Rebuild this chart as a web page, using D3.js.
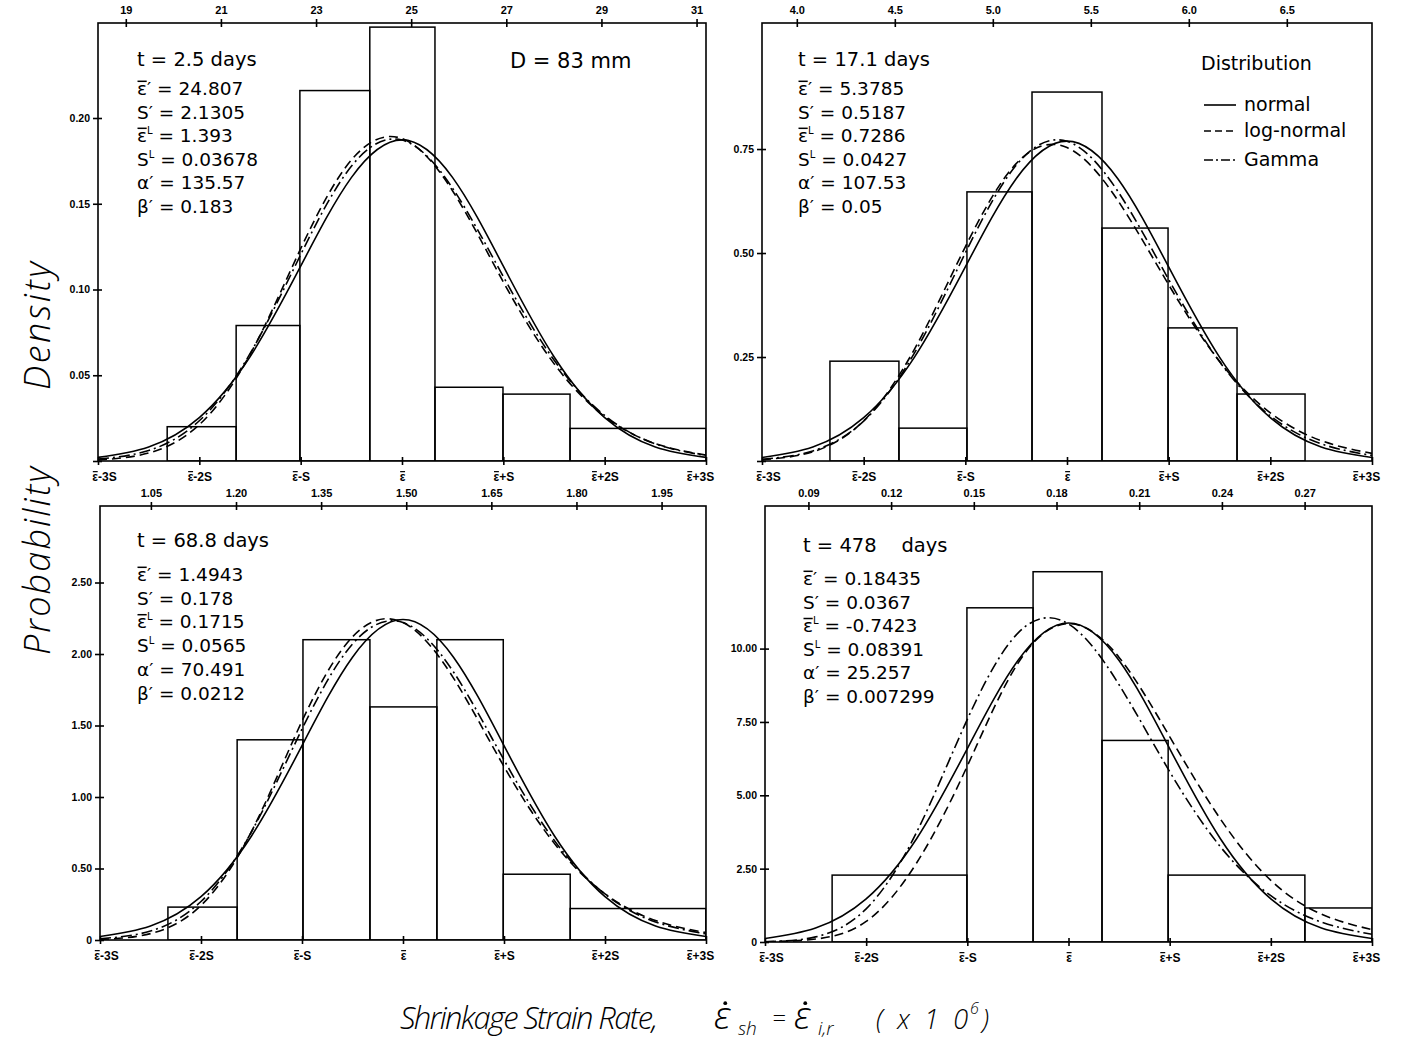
<!DOCTYPE html>
<html><head><meta charset="utf-8">
<script src="https://cdn.jsdelivr.net/npm/d3@7"></script>
<style>body{margin:0;background:#fff} svg{display:block}</style>
</head><body>
<svg id="c" width="1404" height="1042"></svg>
<script>
// ---------------- data ----------------
const zSteps = [-3, -2.5, -2, -1.5, -1, -0.5, 0, 0.5, 1, 1.5, 2, 2.5, 3];
const bottomK = [-3, -2, -1, 0, 1, 2, 3];
const bottomLabels = ["ε-3S", "ε-2S", "ε-S", "ε", "ε+S", "ε+2S", "ε+3S"]; // ε drawn with a bar over it
const distNames = ["normal", "log-normal", "Gamma"];

// Panel 1: t = 2.5 days
const p1Time = "t = 2.5 days";
const p1Stats = ["24.807", "2.1305", "1.393", "0.03678", "135.57", "0.183"];
const p1Mean = 24.807, p1Sd = 2.1305;
const p1TopTicks = [19, 21, 23, 25, 27, 29, 31];
const p1TopLabels = ["19", "21", "23", "25", "27", "29", "31"];
const p1YTicks = [0, 0.05, 0.10, 0.15, 0.20];
const p1YLabels = ["", "0.05", "0.10", "0.15", "0.20"];
const p1Edges = [19.87, 21.32, 22.66, 24.13, 25.50, 26.93, 28.34, 31.20];
const p1Heights = [0.020, 0.079, 0.216, 0.253, 0.043, 0.039, 0.019];
const p1Normal = [0.00208, 0.00823, 0.02534, 0.06079, 0.11357, 0.16525, 0.18725, 0.16525, 0.11357, 0.06079, 0.02534, 0.00823, 0.00208];
const p1LogNormal = [0.00061, 0.00465, 0.02118, 0.06201, 0.12379, 0.17550, 0.18800, 0.15743, 0.10440, 0.05679, 0.02593, 0.01013, 0.00344];
const p1Gamma = [0.00107, 0.00612, 0.02345, 0.06256, 0.12030, 0.17183, 0.18713, 0.15899, 0.10750, 0.05888, 0.02654, 0.00998, 0.00317];

// Panel 2: t = 17.1 days
const p2Time = "t = 17.1 days";
const p2Stats = ["5.3785", "0.5187", "0.7286", "0.0427", "107.53", "0.05"];
const p2Mean = 5.3785, p2Sd = 0.5187;
const p2TopTicks = [4.0, 4.5, 5.0, 5.5, 6.0, 6.5];
const p2TopLabels = ["4.0", "4.5", "5.0", "5.5", "6.0", "6.5"];
const p2YTicks = [0, 0.25, 0.50, 0.75];
const p2YLabels = ["", "0.25", "0.50", "0.75"];
const p2Edges = [4.169, 4.521, 4.868, 5.200, 5.557, 5.894, 6.246, 6.593];
const p2Heights = [0.240, 0.079, 0.647, 0.887, 0.560, 0.320, 0.161];
const p2Normal = [0.00855, 0.03379, 0.10409, 0.24970, 0.46649, 0.67874, 0.76911, 0.67874, 0.46649, 0.24970, 0.10409, 0.03379, 0.00855];
const p2LogNormal = [0.00301, 0.02218, 0.09647, 0.26905, 0.51493, 0.71488, 0.75353, 0.62632, 0.42372, 0.23965, 0.11592, 0.04889, 0.01828];
const p2Gamma = [0.00399, 0.02428, 0.09606, 0.25973, 0.50026, 0.71100, 0.76856, 0.64834, 0.43640, 0.23900, 0.10834, 0.04126, 0.01337];

// Panel 3: t = 68.8 days
const p3Time = "t = 68.8 days";
const p3Stats = ["1.4943", "0.178", "0.1715", "0.0565", "70.491", "0.0212"];
const p3Mean = 1.4943, p3Sd = 0.178;
const p3TopTicks = [1.05, 1.20, 1.35, 1.50, 1.65, 1.80, 1.95];
const p3TopLabels = ["1.05", "1.20", "1.35", "1.50", "1.65", "1.80", "1.95"];
const p3YTicks = [0, 0.5, 1.0, 1.5, 2.0, 2.5];
const p3YLabels = ["0", "0.50", "1.00", "1.50", "2.00", "2.50"];
const p3Edges = [1.080, 1.202, 1.318, 1.436, 1.554, 1.671, 1.789, 2.028];
const p3Heights = [0.23, 1.40, 2.10, 1.63, 2.10, 0.46, 0.22];
const p3Normal = [0.02490, 0.09847, 0.30332, 0.72763, 1.35940, 1.97790, 2.24120, 1.97790, 1.35940, 0.72763, 0.30332, 0.09847, 0.02490];
const p3LogNormal = [0.00414, 0.04458, 0.24172, 0.75864, 1.53080, 2.12000, 2.22000, 1.83163, 1.21274, 0.67401, 0.32298, 0.13641, 0.05172];
const p3Gamma = [0.00881, 0.06260, 0.26935, 0.75693, 1.47464, 2.07000, 2.22000, 1.87417, 1.25912, 0.69459, 0.32081, 0.12612, 0.04283];

// Panel 4: t = 478 days
const p4Time = "t = 478    days";
const p4Stats = ["0.18435", "0.0367", "-0.7423", "0.08391", "25.257", "0.007299"];
const p4Mean = 0.18435, p4Sd = 0.0367;
const p4TopTicks = [0.09, 0.12, 0.15, 0.18, 0.21, 0.24, 0.27];
const p4TopLabels = ["0.09", "0.12", "0.15", "0.18", "0.21", "0.24", "0.27"];
const p4YTicks = [0, 2.5, 5.0, 7.5, 10.0];
const p4YLabels = ["0", "2.50", "5.00", "7.50", "10.00"];
const p4Edges = [0.0986, 0.1475, 0.1715, 0.1965, 0.2205, 0.2701, 0.2945];
const p4Heights = [2.28, 11.39, 12.62, 6.87, 2.28, 1.16];
const p4Normal = [0.12076, 0.47760, 1.47115, 3.52911, 6.59322, 9.59312, 10.87036, 9.59312, 6.59322, 3.52911, 1.47115, 0.47760, 0.12076];
const p4LogNormal = [0.01, 0.10, 0.70, 2.70, 6.00, 9.50, 10.85, 9.70, 7.00, 4.20, 2.10, 0.95, 0.42];
const p4Gamma = [0.01013, 0.17400, 1.13065, 3.74867, 7.58760, 10.52756, 10.84008, 8.76693, 5.80713, 3.25274, 1.57922, 0.67781, 0.26130];

// ---------------- layout ----------------
const panels = [
  {mean: p1Mean, sd: p1Sd, topTicks: p1TopTicks, topLabels: p1TopLabels, yTicks: p1YTicks, yLabels: p1YLabels,
   edges: p1Edges, heights: p1Heights, curves: [p1Normal, p1LogNormal, p1Gamma], time: p1Time, stats: p1Stats,
   box: {l: 98, r: 706, t: 23, b: 461}, yMax: 0.2554, ann: {x: 137, ty: 66, sy: 95, step: 23.5}},
  {mean: p2Mean, sd: p2Sd, topTicks: p2TopTicks, topLabels: p2TopLabels, yTicks: p2YTicks, yLabels: p2YLabels,
   edges: p2Edges, heights: p2Heights, curves: [p2Normal, p2LogNormal, p2Gamma], time: p2Time, stats: p2Stats,
   box: {l: 762, r: 1372, t: 23, b: 461}, yMax: 1.053, ann: {x: 798, ty: 66, sy: 95, step: 23.5}},
  {mean: p3Mean, sd: p3Sd, topTicks: p3TopTicks, topLabels: p3TopLabels, yTicks: p3YTicks, yLabels: p3YLabels,
   edges: p3Edges, heights: p3Heights, curves: [p3Normal, p3LogNormal, p3Gamma], time: p3Time, stats: p3Stats,
   box: {l: 100, r: 706, t: 506, b: 940}, yMax: 3.035, ann: {x: 137, ty: 547, sy: 581, step: 23.7}},
  {mean: p4Mean, sd: p4Sd, topTicks: p4TopTicks, topLabels: p4TopLabels, yTicks: p4YTicks, yLabels: p4YLabels,
   edges: p4Edges, heights: p4Heights, curves: [p4Normal, p4LogNormal, p4Gamma], time: p4Time, stats: p4Stats,
   box: {l: 765, r: 1372, t: 506, b: 942}, yMax: 14.86, ann: {x: 803, ty: 552, sy: 585, step: 23.6}}
];

const dashes = [null, "9,5", "11,4,2,4"];
const tickFont = "'Liberation Sans', Arial, sans-serif";
const annFont = "'DejaVu Sans', sans-serif";
const titleFont = "'Open Sans', 'Liberation Sans', sans-serif";

const svg = d3.select("#c");
svg.append("rect").attr("width", 1404).attr("height", 1042).attr("fill", "#fff");

// draw a short bar over one character of a text element
function barOver(textSel, parentSel, charIndex, fs, sw) {
  const node = textSel.node();
  const s = node.getStartPositionOfChar(charIndex);
  const e = node.getEndPositionOfChar(charIndex);
  const yy = s.y - fs * 0.74;
  parentSel.append("line").attr("x1", s.x + 0.5).attr("x2", e.x - 0.3).attr("y1", yy).attr("y2", yy)
    .attr("stroke", "#000").attr("stroke-width", sw);
}

panels.forEach((p, pi) => {
  const b = p.box;
  const x = d3.scaleLinear().domain([p.mean - 3 * p.sd, p.mean + 3 * p.sd]).range([b.l, b.r]);
  const y = d3.scaleLinear().domain([0, p.yMax]).range([b.b, b.t]);
  const g = svg.append("g");

  const clipId = "clip" + pi;
  svg.append("clipPath").attr("id", clipId).append("rect")
    .attr("x", b.l).attr("y", b.t).attr("width", b.r - b.l).attr("height", b.b - b.t);

  // histogram bars
  const bars = p.heights.map((h, i) => ({x0: p.edges[i], x1: p.edges[i + 1], h}));
  g.append("g").attr("clip-path", `url(#${clipId})`).selectAll("rect").data(bars).join("rect")
    .attr("x", d => x(d.x0)).attr("width", d => x(d.x1) - x(d.x0))
    .attr("y", d => y(d.h)).attr("height", d => y(0) - y(d.h))
    .attr("fill", "none").attr("stroke", "#000").attr("stroke-width", 1.5);

  // curves
  const line = d3.line().x(d => x(p.mean + d[0] * p.sd)).y(d => y(d[1])).curve(d3.curveNatural);
  const cg = g.append("g").attr("clip-path", `url(#${clipId})`);
  p.curves.forEach((vals, ci) => {
    cg.append("path").datum(zSteps.map((z, i) => [z, vals[i]]))
      .attr("d", line).attr("fill", "none").attr("stroke", "#000").attr("stroke-width", 1.6)
      .attr("stroke-dasharray", dashes[ci]);
  });

  // frame
  g.append("rect").attr("x", b.l).attr("y", b.t).attr("width", b.r - b.l).attr("height", b.b - b.t)
    .attr("fill", "none").attr("stroke", "#000").attr("stroke-width", 1.6);

  // top axis
  const top = g.append("g").attr("transform", `translate(0,${b.t})`)
    .call(d3.axisTop(x).tickValues(p.topTicks).tickSize(4).tickPadding(5)
      .tickFormat((d, i) => p.topLabels[i]));
  top.select(".domain").remove();
  top.selectAll("line").attr("y1", 4).attr("stroke-width", 1.6);
  top.selectAll("text").attr("font-family", tickFont).attr("font-size", 11).attr("font-weight", "bold");

  // left axis
  const left = g.append("g").attr("transform", `translate(${b.l},0)`)
    .call(d3.axisLeft(y).tickValues(p.yTicks).tickSize(5).tickPadding(3)
      .tickFormat((d, i) => p.yLabels[i]));
  left.select(".domain").remove();
  left.selectAll("line").attr("x1", 4).attr("stroke-width", 1.6);
  left.selectAll("text").attr("font-family", tickFont).attr("font-size", 10.5).attr("font-weight", "bold");

  // bottom axis
  const bot = g.append("g").attr("transform", `translate(0,${b.b})`)
    .call(d3.axisBottom(x).tickValues(bottomK.map(k => p.mean + k * p.sd)).tickSize(4).tickPadding(7)
      .tickFormat((d, i) => bottomLabels[i]));
  bot.select(".domain").remove();
  bot.selectAll("line").attr("y1", -4).attr("stroke-width", 1.6);
  bot.selectAll(".tick").each(function (d, i) {
    const tgp = d3.select(this);
    const t = tgp.select("text").attr("font-family", tickFont).attr("font-size", 12).attr("font-weight", "bold");
    if (i === 0) t.attr("dx", 6);
    if (i === 6) t.attr("dx", -6);
    barOver(t, tgp, 0, 12, 1.2);
  });

  // annotations
  const a = p.ann;
  g.append("text").attr("x", a.x).attr("y", a.ty).attr("font-family", annFont).attr("font-size", 19.5)
    .style("white-space", "pre").text(p.time);
  p.stats.forEach((v, i) => {
    const t = g.append("text").attr("x", a.x).attr("y", a.sy + i * a.step)
      .attr("font-family", annFont).attr("font-size", 18.5);
    if (i === 0) { t.append("tspan").text("ε′ = " + v); barOver(t, g, 0, 18.5, 1.5); }
    else if (i === 1) { t.append("tspan").text("S′ = " + v); }
    else if (i === 2) {
      t.append("tspan").text("ε"); t.append("tspan").attr("font-size", 10).attr("dy", -8).text("L");
      t.append("tspan").attr("dy", 8).text(" = " + v);
      barOver(t, g, 0, 18.5, 1.5);
    } else if (i === 3) {
      t.append("tspan").text("S"); t.append("tspan").attr("font-size", 10).attr("dy", -8).text("L");
      t.append("tspan").attr("dy", 8).text(" = " + v);
    } else if (i === 4) { t.append("tspan").text("α′ = " + v); }
    else { t.append("tspan").text("β′ = " + v); }
  });
});

// D = 83 mm
svg.append("text").attr("x", 510).attr("y", 68).attr("font-family", annFont).attr("font-size", 21).text("D = 83 mm");

// legend
const lg = svg.append("g");
lg.append("text").attr("x", 1201).attr("y", 70).attr("font-family", annFont).attr("font-size", 19).text("Distribution");
distNames.forEach((n, i) => {
  const yy = [105, 131, 160][i];
  lg.append("line").attr("x1", 1204).attr("x2", 1236).attr("y1", yy).attr("y2", yy)
    .attr("stroke", "#000").attr("stroke-width", 1.6).attr("stroke-dasharray", [null, "7,4", "9,3,2,3"][i]);
  lg.append("text").attr("x", 1244).attr("y", yy + 6).attr("font-family", annFont).attr("font-size", 19).text(n);
});

// axis titles
svg.append("text").attr("transform", "translate(50,326) rotate(-90)").attr("text-anchor", "middle")
  .attr("font-family", titleFont).attr("font-style", "italic").attr("font-weight", 300).attr("font-size", 36)
  .attr("textLength", 128).attr("lengthAdjust", "spacing").text("Density");
svg.append("text").attr("transform", "translate(50,561) rotate(-90)").attr("text-anchor", "middle")
  .attr("font-family", titleFont).attr("font-style", "italic").attr("font-weight", 300).attr("font-size", 36)
  .attr("textLength", 188).attr("lengthAdjust", "spacing").text("Probability");

const tg = svg.append("g").attr("font-family", titleFont).attr("font-style", "italic").attr("font-weight", 300);
function tt(xp, yp, size, str, len) {
  const t = tg.append("text").attr("x", xp).attr("y", yp).attr("font-size", size).text(str);
  if (len) t.attr("textLength", len).attr("lengthAdjust", "spacing");
  return t;
}
function dotOver(t, size) {
  const n = t.node();
  const s = n.getStartPositionOfChar(0), e = n.getEndPositionOfChar(0);
  tg.append("circle").attr("cx", (s.x + e.x) / 2 + 3).attr("cy", s.y - size * 0.68).attr("r", 1.9).attr("fill", "#000");
}
tt(400, 1029, 31, "Shrinkage Strain Rate,", 258);
const e1 = tt(714, 1029, 38, "ε"); dotOver(e1, 38);
tt(738, 1035, 19, "sh");
tt(772, 1027, 24, "=");
const e2 = tt(794, 1029, 38, "ε"); dotOver(e2, 38);
tt(818, 1035, 19, "i,r");
tt(876, 1029, 27, "(x10", 92);
tt(970, 1014, 16, "6");
tt(982, 1029, 27, ")");
</script>
</body></html>
